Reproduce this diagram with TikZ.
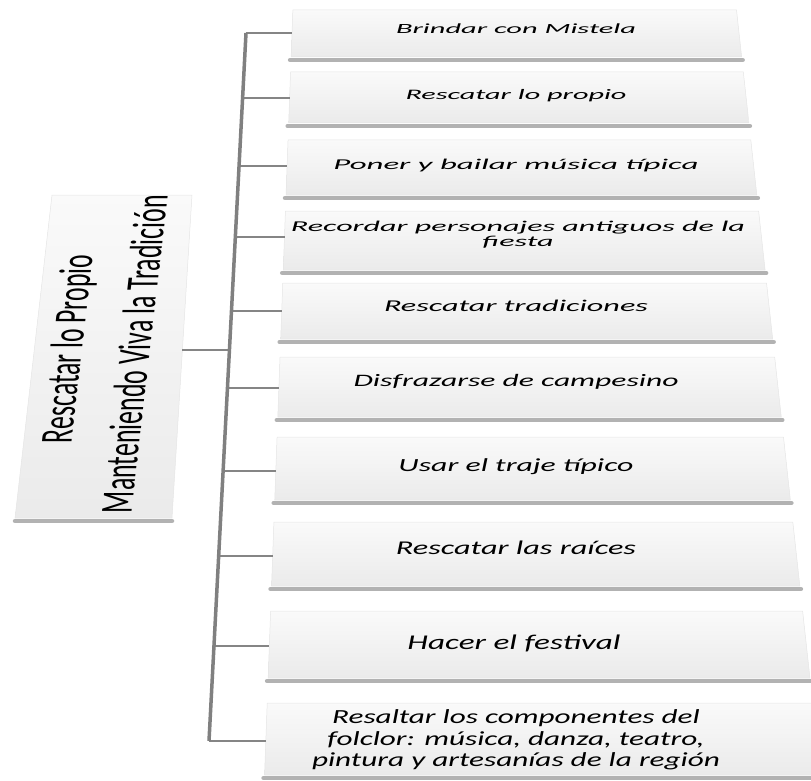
\documentclass[tikz,border=0pt]{standalone}
\usepackage{fontspec}
\usepackage{graphicx}
\setmainfont{Carlito}
\newfontfamily\rootfont{Carlito}
\newcommand\fitw[4]{\resizebox{#1}{\height}{\fontsize{#2}{#3}\selectfont\itshape\begin{tabular}{@{}c@{}}#4\end{tabular}}}
\newcommand\childbox[2]{%
 \pgfmathsetmacro\xlt{292-0.037*(#1-33)}%
 \pgfmathsetmacro\xlb{292-0.037*(#2-33)}%
 \pgfmathsetmacro\xrt{742+0.11*(#1-60)}%
 \pgfmathsetmacro\xrb{742+0.11*(#2-60)}%
 \shade[boxshade] (\xlt,#1) -- (\xrt,#1) -- (\xrb,#2) -- (\xlb,#2) -- cycle;
 \draw[shadowbar] (\xlb-1,#2+3) -- (\xrb+1,#2+3);
}
\tikzset{
 boxshade/.style={top color=black!2, bottom color=black!8, draw=black!10, line width=0.5pt},
 shadowbar/.style={draw=black!30, line width=4.5pt, line cap=round},
 trunk/.style={draw=black!50, line width=3.5pt},
 branch/.style={draw=black!48, line width=1.8pt},
 ctext/.style={align=center, inner sep=0pt},
 rtext/.style={rotate=90, transform shape, anchor=base, inner sep=0pt},
}
\begin{document}
\begin{tikzpicture}[x=1pt,y=-1pt]
\useasboundingbox (0,0) rectangle (811,781);
\begin{scope}
\clip (0,0) rectangle (811,781);
% root box
\shade[boxshade] (52,195) -- (192,195) -- (172,518) -- (15,518) -- cycle;
\draw[shadowbar] (15,521) -- (172,521);
% child boxes
\childbox{10}{57}
\childbox{72}{123}
\childbox{140}{195}
\childbox{211}{270}
\childbox{283}{339}
\childbox{357}{417}
\childbox{437}{500}
\childbox{522}{586}
\childbox{611}{678}
\childbox{703}{775}
\end{scope}
% root text (skewed)
\begin{scope}[shift={(0,350)}, cm={1,0,0.115,1,(0,0)}]
 \node[rtext] (r1) at (82,-1) {\resizebox{188pt}{\height}{\rootfont\fontsize{46}{48}\selectfont Rescatar lo Propio}};
 \node[rtext] (r2) at (150,4) {\resizebox{318pt}{\height}{\rootfont\fontsize{46}{48}\selectfont Manteniendo Viva la Tradición}};
\end{scope}
% child texts
\node[ctext] (t1) at (516,31) {\fitw{240pt}{14}{15}{Brindar con Mistela}};
\node[ctext] (t2) at (516,96) {\fitw{221pt}{14.5}{16}{Rescatar lo propio}};
\node[ctext] (t3) at (516,166) {\fitw{365pt}{15}{16}{Poner y bailar música típica}};
\node[ctext] (t4) at (518,236) {\fitw{454pt}{15}{15.5}{Recordar personajes antiguos de la\\ fiesta}};
\node[ctext] (t5) at (516,308) {\fitw{264pt}{16.5}{18}{Rescatar tradiciones}};
\node[ctext] (t6) at (516,383) {\fitw{325pt}{17.5}{19}{Disfrazarse de campesino}};
\node[ctext] (t7) at (516,467) {\fitw{235pt}{18.5}{20}{Usar el traje típico}};
\node[ctext] (t8) at (516,550) {\fitw{240pt}{19.5}{21}{Rescatar las raíces}};
\node[ctext] (t9) at (514,645) {\fitw{213pt}{21}{23}{Hacer el festival}};
\node[ctext] (t10) at (516,741) {\fitw{408pt}{20}{21.5}{Resaltar los componentes del\\ folclor: música, danza, teatro,\\ pintura y artesanías de la región}};
% connector points
\coordinate (rootE) at (182.4,350);
\coordinate (jr) at (229.4,350);
\coordinate (j1) at (246,33);   \coordinate (e1) at (292,33);
\coordinate (j2) at (242.6,98); \coordinate (e2) at (289.6,98);
\coordinate (j3) at (239.1,166);\coordinate (e3) at (287.1,166);
\coordinate (j4) at (235.3,237);\coordinate (e4) at (284.5,237);
\coordinate (j5) at (231.5,311);\coordinate (e5) at (281.7,311);
\coordinate (j6) at (227.4,388);\coordinate (e6) at (278.9,388);
\coordinate (j7) at (223.1,471);\coordinate (e7) at (275.8,471);
\coordinate (j8) at (218.7,556);\coordinate (e8) at (272.6,556);
\coordinate (j9) at (214.0,646);\coordinate (e9) at (269.3,646);
\coordinate (j10) at (209,741); \coordinate (e10) at (265.8,741);
% connectors
\draw[branch] (rootE) -- (jr);
\foreach \i in {1,...,10} { \draw[branch] (j\i) -- (e\i); }
\draw[trunk] (j1) -- (j10);
\end{tikzpicture}
\end{document}
